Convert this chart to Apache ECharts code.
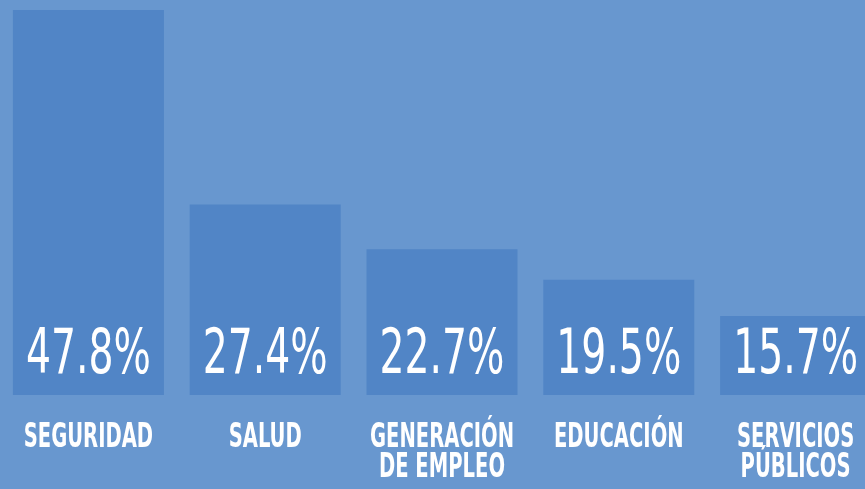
<!DOCTYPE html>
<html>
<head>
<meta charset="utf-8">
<script src="https://cdn.jsdelivr.net/npm/echarts@6/dist/echarts.min.js"></script>
<style>
  html, body { margin: 0; padding: 0; background: #6897cf; overflow: hidden; }
  #chart { width: 884px; height: 489px; }
</style>
</head>
<body>
<div id="chart"></div>
<script>
// categorías y porcentajes
var categorias = ['SEGURIDAD', 'SALUD', 'GENERACIÓN\nDE EMPLEO', 'EDUCACIÓN', 'SERVICIOS\nPÚBLICOS'];
var valores = [47.8, 27.4, 22.7, 19.5, 15.7];

var yMin = 7.4;
var fuente = "'DejaVu Sans Condensed', 'Liberation Sans Narrow', sans-serif";

var chart = echarts.init(document.getElementById('chart'));

// textos estrechos: porcentaje dentro de la barra y nombre debajo
function renderTextos(params, api) {
    var i = api.value(0);
    var base = api.coord([i, yMin]);
    return {
        type: 'group',
        children: [
            {
                type: 'text',
                x: base[0],
                y: base[1] - 38,
                scaleX: 0.705,
                style: {
                    text: api.value(1).toFixed(1) + '%',
                    fill: '#ffffff',
                    fontFamily: fuente,
                    fontSize: 62,
                    align: 'center',
                    verticalAlign: 'middle'
                }
            },
            {
                type: 'text',
                x: base[0],
                y: base[1] + 28,
                scaleX: 0.64,
                style: {
                    text: categorias[i],
                    fill: '#ffffff',
                    fontFamily: fuente,
                    fontWeight: 'bold',
                    fontSize: 34,
                    lineHeight: 30,
                    align: 'center',
                    verticalAlign: 'top'
                }
            }
        ]
    };
}

var option = {
    backgroundColor: '#6897cf',
    animation: false,
    grid: {
        left: 0,
        right: 0,
        top: 10,
        bottom: 94
    },
    xAxis: {
        type: 'category',
        data: categorias,
        axisLine: { show: false },
        axisTick: { show: false },
        axisLabel: { show: false }
    },
    yAxis: {
        type: 'value',
        min: yMin,
        max: 47.8,
        show: false,
        splitLine: { show: false }
    },
    series: [
        {
            type: 'bar',
            data: valores,
            barWidth: 151,
            itemStyle: { color: '#5185c6' }
        },
        {
            type: 'custom',
            z: 5,
            clip: false,
            data: valores.map(function (v, i) { return [i, v]; }),
            renderItem: renderTextos
        }
    ]
};
chart.setOption(option);
</script>
</body>
</html>
